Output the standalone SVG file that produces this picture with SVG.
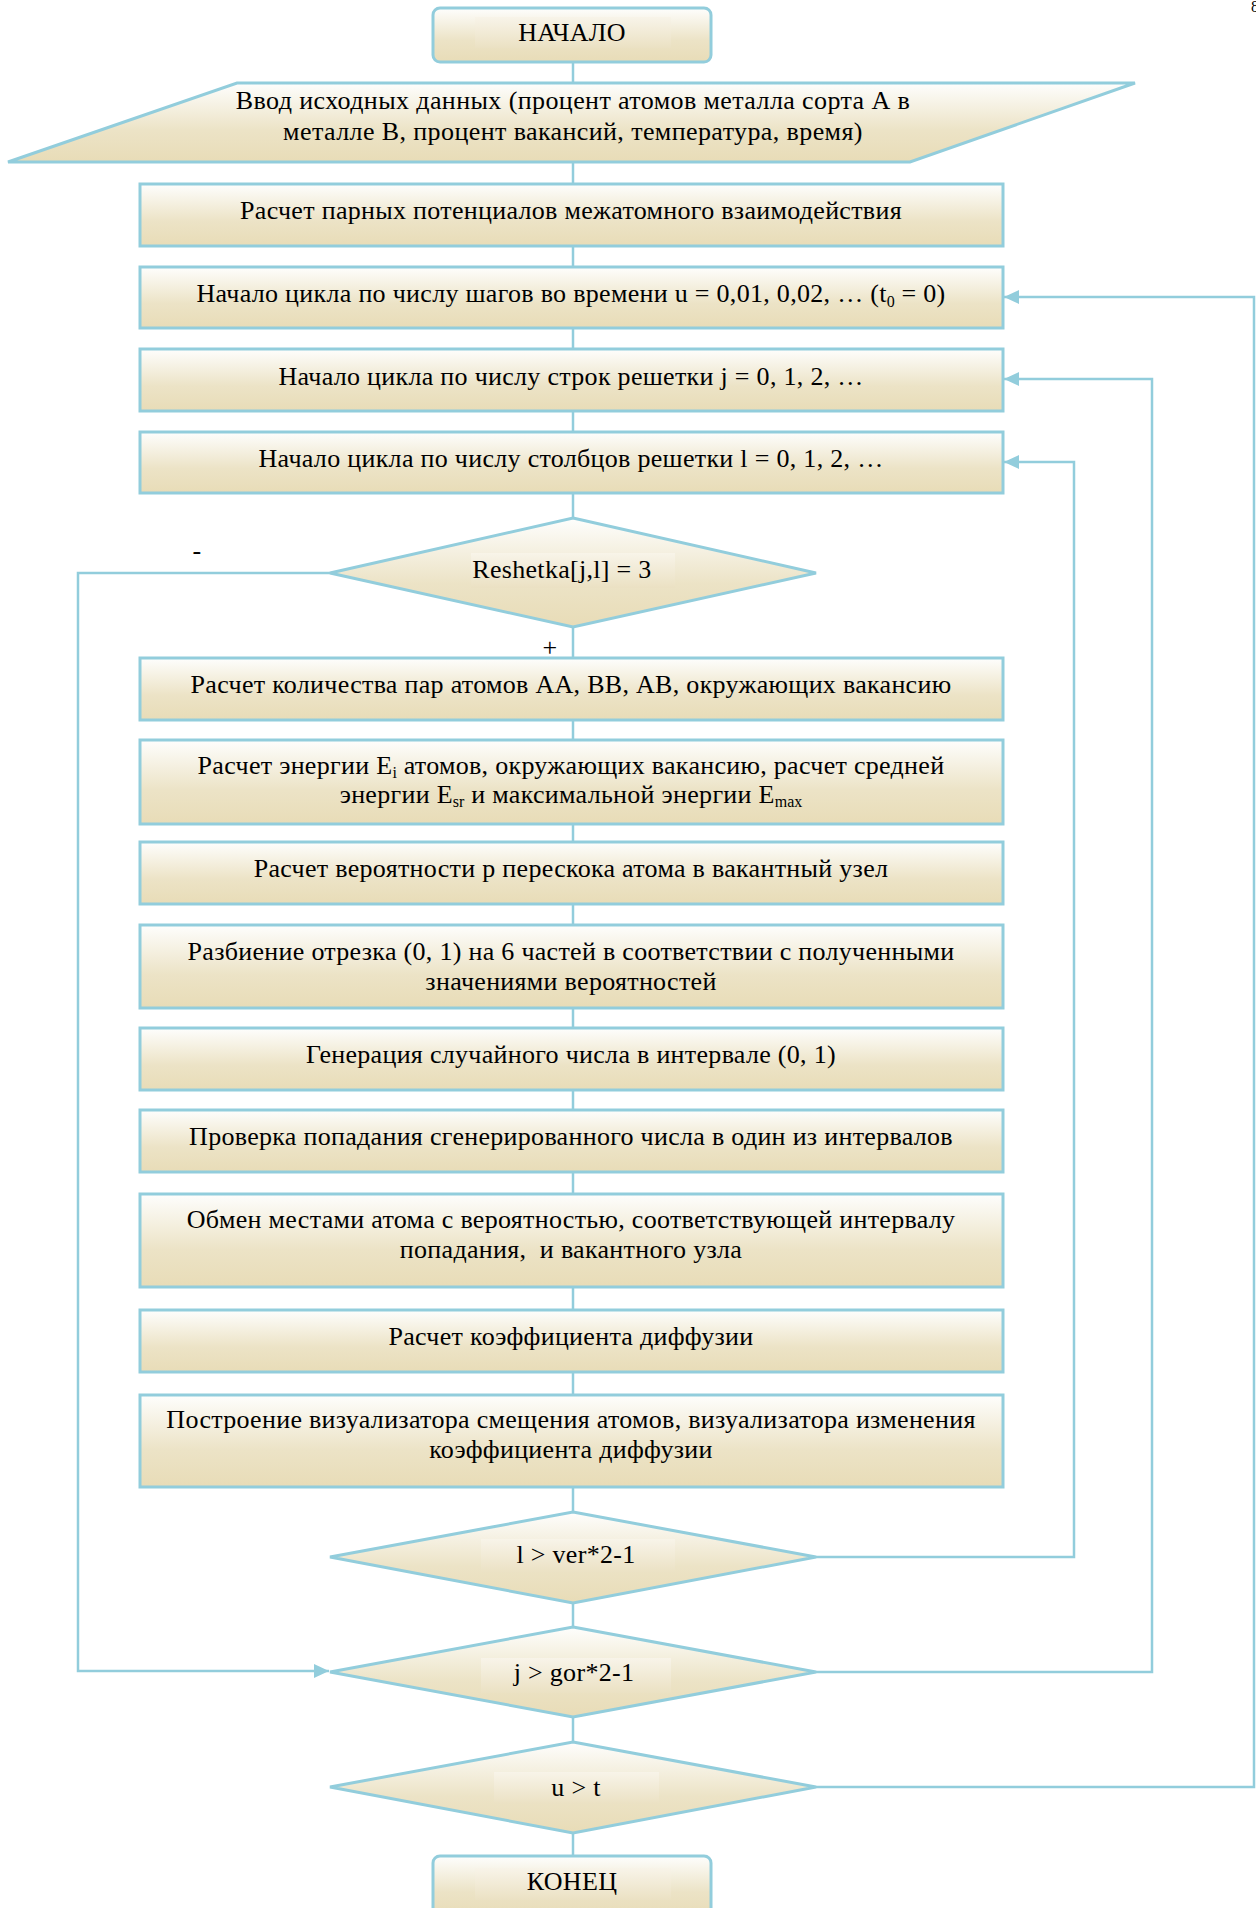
<svg xmlns="http://www.w3.org/2000/svg" width="1256" height="1908" viewBox="0 0 1256 1908" font-family="'Liberation Serif', 'Times New Roman', serif">
<defs>
<linearGradient id="fill" x1="0" y1="0" x2="0" y2="1">
<stop offset="0" stop-color="#fefefd"/>
<stop offset="0.6" stop-color="#ece3c6"/>
<stop offset="1" stop-color="#e8dcb7"/>
</linearGradient>
<linearGradient id="tfill" x1="0" y1="0" x2="0" y2="1">
<stop offset="0" stop-color="#f8f4e9"/>
<stop offset="1" stop-color="#ebe1c3"/>
</linearGradient>
<marker id="arr" markerUnits="userSpaceOnUse" markerWidth="16" markerHeight="16" refX="15" refY="7" orient="auto">
<path d="M0,0 L15,7 L0,14 z" fill="#92cddc"/>
</marker>
<style>
.n{fill:url(#fill);stroke:#92cddc;stroke-width:3}
.tb{fill:url(#tfill);stroke:none}
.c{fill:none;stroke:#92cddc;stroke-width:2.5}
text{font-family:'Liberation Serif','Times New Roman',serif;font-size:26px;letter-spacing:0.3px;fill:#000;text-anchor:middle}
.sub{font-size:16px;letter-spacing:0}
</style>
</defs>
<g id="connectors">
<path class="c" d="M573,63 V83"/>
<path class="c" d="M573,162 V184"/>
<path class="c" d="M573,246 V267"/>
<path class="c" d="M573,328 V349"/>
<path class="c" d="M573,411 V432"/>
<path class="c" d="M573,493 V518"/>
<path class="c" d="M573,627 V658"/>
<path class="c" d="M573,720 V740"/>
<path class="c" d="M573,824 V842"/>
<path class="c" d="M573,904 V925"/>
<path class="c" d="M573,1008 V1028"/>
<path class="c" d="M573,1090 V1110"/>
<path class="c" d="M573,1172 V1194"/>
<path class="c" d="M573,1287 V1310"/>
<path class="c" d="M573,1372 V1395"/>
<path class="c" d="M573,1487 V1512"/>
<path class="c" d="M573,1603 V1627"/>
<path class="c" d="M573,1717 V1742"/>
<path class="c" d="M573,1833 V1856"/>
<path class="c" d="M816,1787 H1254 V297 H1004" marker-end="url(#arr)"/>
<path class="c" d="M816,1672 H1152 V379 H1004" marker-end="url(#arr)"/>
<path class="c" d="M816,1557 H1074 V462 H1004" marker-end="url(#arr)"/>
<path class="c" d="M330,573 H78 V1671 H329" marker-end="url(#arr)"/>
<text x="197" y="559">-</text>
<text x="550" y="656">+</text>
</g>
<g id="start">
<rect class="n" x="433" y="8" width="278" height="54" rx="7"/>
<rect class="tb" x="475" y="17" width="196" height="31"/>
<text x="572" y="41">НАЧАЛО</text>
</g>
<g id="input">
<polygon class="n" points="237,83 1135,83 910,162 8,162"/>
<text x="573" y="109" style="letter-spacing:0.4px">Ввод исходных данных (процент атомов металла сорта А в</text>
<text x="573" y="140" style="letter-spacing:0.4px">металле В, процент вакансий, температура, время)</text>
</g>
<g id="potentials">
<rect class="n" x="140" y="184" width="863" height="62"/>
<text x="571" y="219">Расчет парных потенциалов межатомного взаимодействия</text>
</g>
<g id="loop-u">
<rect class="n" x="140" y="267" width="863" height="61"/>
<text x="571" y="302">Начало цикла по числу шагов во времени u = 0,01, 0,02, … (t<tspan class="sub" dy="5">0</tspan><tspan dy="-5"> = 0)</tspan></text>
</g>
<g id="loop-j">
<rect class="n" x="140" y="349" width="863" height="62"/>
<text x="571" y="385">Начало цикла по числу строк решетки j = 0, 1, 2, …</text>
</g>
<g id="loop-l">
<rect class="n" x="140" y="432" width="863" height="61"/>
<text x="571" y="467">Начало цикла по числу столбцов решетки l = 0, 1, 2, …</text>
</g>
<g id="check-vacancy">
<polygon class="n" points="573,518 816,573 573,627 330,573"/>
<rect class="tb" x="471" y="553" width="204" height="35"/>
<text x="562" y="578">Reshetka[j,l] = 3</text>
</g>
<g id="pairs">
<rect class="n" x="140" y="658" width="863" height="62"/>
<text x="571" y="693">Расчет количества пар атомов АА, ВВ, АВ, окружающих вакансию</text>
</g>
<g id="energy">
<rect class="n" x="140" y="740" width="863" height="84"/>
<text x="571" y="774">Расчет энергии E<tspan class="sub" dy="4">i</tspan><tspan dy="-4"> атомов, окружающих вакансию, расчет средней</tspan></text>
<text x="571" y="803">энергии E<tspan class="sub" dy="4">sr</tspan><tspan dy="-4"> и максимальной энергии E</tspan><tspan class="sub" dy="4">max</tspan></text>
</g>
<g id="probability">
<rect class="n" x="140" y="842" width="863" height="62"/>
<text x="571" y="877">Расчет вероятности р перескока атома в вакантный узел</text>
</g>
<g id="split">
<rect class="n" x="140" y="925" width="863" height="83"/>
<text x="571" y="960">Разбиение отрезка (0, 1) на 6 частей в соответствии с полученными</text>
<text x="571" y="990">значениями вероятностей</text>
</g>
<g id="random">
<rect class="n" x="140" y="1028" width="863" height="62"/>
<text x="571" y="1063">Генерация случайного числа в интервале (0, 1)</text>
</g>
<g id="hit-check">
<rect class="n" x="140" y="1110" width="863" height="62"/>
<text x="571" y="1145">Проверка попадания сгенерированного числа в один из интервалов</text>
</g>
<g id="swap">
<rect class="n" x="140" y="1194" width="863" height="93"/>
<text x="571" y="1228">Обмен местами атома с вероятностью, соответствующей интервалу</text>
<text x="571" y="1258" xml:space="preserve">попадания,  и вакантного узла</text>
</g>
<g id="diffusion">
<rect class="n" x="140" y="1310" width="863" height="62"/>
<text x="571" y="1345">Расчет коэффициента диффузии</text>
</g>
<g id="visualize">
<rect class="n" x="140" y="1395" width="863" height="92"/>
<text x="571" y="1428">Построение визуализатора смещения атомов, визуализатора изменения</text>
<text x="571" y="1458">коэффициента диффузии</text>
</g>
<g id="check-l">
<polygon class="n" points="573,1512 816,1557 573,1603 330,1557"/>
<rect class="tb" x="481" y="1539" width="194" height="34"/>
<text x="576" y="1563">l &gt; ver*2-1</text>
</g>
<g id="check-j">
<polygon class="n" points="573,1627 816,1672 573,1717 330,1672"/>
<rect class="tb" x="481" y="1658" width="190" height="35"/>
<text x="574" y="1681">j &gt; gor*2-1</text>
</g>
<g id="check-u">
<polygon class="n" points="573,1742 816,1787 573,1833 330,1787"/>
<rect class="tb" x="494" y="1772" width="165" height="32"/>
<text x="576" y="1796">u &gt; t</text>
</g>
<g id="end">
<rect class="n" x="433" y="1856" width="278" height="60" rx="7"/>
<rect class="tb" x="475" y="1868" width="196" height="32"/>
<text x="572" y="1890">КОНЕЦ</text>
</g>
<text x="1251" y="12" style="font-size:16px;text-anchor:start">8</text>
</svg>
